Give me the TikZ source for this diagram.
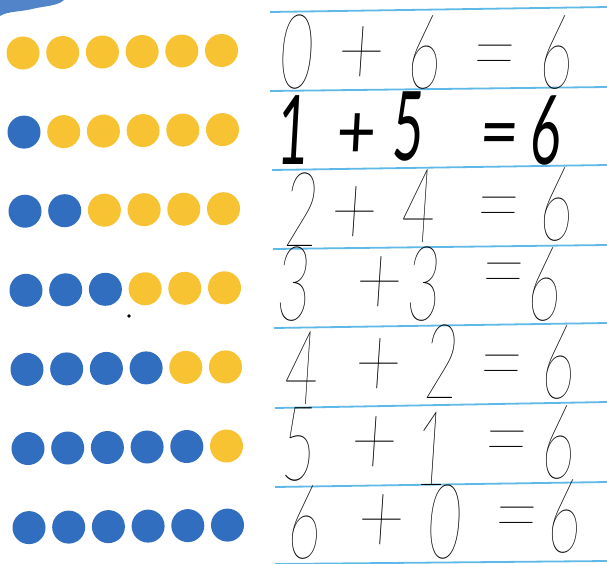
\documentclass[tikz,border=0pt]{standalone}
\usepackage{fontspec}
\IfFontExistsTF{Lato Thin}{\newfontfamily\handthin{Lato Thin}}{\newfontfamily\handthin{Lato Light}}
\newfontfamily\handreg{Lato}
\definecolor{dotyellow}{RGB}{247,195,50}
\definecolor{dotblue}{RGB}{50,110,192}
\definecolor{ruleblue}{RGB}{95,185,232}
\begin{document}
\begin{tikzpicture}[x=1pt,y=-1pt,
  dot/.style={circle,inner sep=0pt,minimum size=33pt},
  ruled/.style={draw=ruleblue,line width=1.8pt},
  hand/.style={font=\handthin\fontsize{104}{104}\selectfont,inner sep=0pt,anchor=base,xscale=0.55,xslant=0.12},
  handb/.style={font=\handreg\fontsize{96}{96}\selectfont,inner sep=0pt,anchor=base,xscale=0.55,xslant=0.1},
  sign/.style={hand,xscale=1.45},
  signb/.style={handb,xscale=1.3,yscale=0.8}]
\useasboundingbox (0,0) rectangle (607,563);
\fill[white] (0,0) rectangle (607,563);
% blue blob top-left
\fill[dotblue!85] (0,0) -- (64,0) .. controls (58,6) and (44,6) .. (32,9) .. controls (20,12) and (8,11) .. (0,16) -- cycle;
% dots
\foreach \r in {1,...,7} {
  \foreach \i in {1,...,6} {
    \pgfmathsetmacro\xx{23+(\r-1)*1+39.7*(\i-1)}
    \pgfmathsetmacro\yy{53+79.1*(\r-1)-0.5*(\i-1)}
    \ifnum\i<\r \def\col{dotblue}\else\def\col{dotyellow}\fi
    \node[dot,fill=\col] (d-\r-\i) at (\xx,\yy) {};
  }
}
\fill[black] (129,316) circle (1.8);
% ruled lines
\draw[ruled] (270,12) -- (607,7);
\draw[ruled] (270,91) -- (607,87);
\draw[ruled] (272,170) -- (607,165);
\draw[ruled] (273,249) -- (607,245);
\draw[ruled] (274,328) -- (607,323);
\draw[ruled] (275,408) -- (607,402);
\draw[ruled] (275,487) -- (607,482);
\draw[ruled] (275,564) -- (607,561);
% row 1
\node[hand] (a1) at (295,88) {0};
\node[sign] (a2) at (360,86) {+};
\node[hand] (a3) at (423,88) {6};
\node[sign] (a4) at (493,88) {=};
\node[hand] (a5) at (555,88) {6};
% row 2
\node[handb] (b1) at (292,164) {1};
\node[signb] (b2) at (355,158) {+};
\node[handb] (b3) at (407,160) {5};
\node[signb] (b4) at (498,158) {=};
\node[handb] (b5) at (545,164) {6};
% row 3
\node[hand] (c1) at (300,246) {2};
\node[sign] (c2) at (353,246) {+};
\node[hand] (c3) at (417,242) {4};
\node[sign] (c4) at (497,240) {=};
\node[hand] (c5) at (555,240) {6};
% row 4
\node[hand] (e1) at (292,320) {3};
\node[sign] (e2) at (378,316) {+};
\node[hand] (e3) at (422,320) {3};
\node[sign] (e4) at (502,306) {=};
\node[hand] (e5) at (543,320) {6};
% row 5
\node[hand] (f1) at (300,404) {4};
\node[sign] (f2) at (377,398) {+};
\node[hand] (f3) at (440,398) {2};
\node[sign] (f4) at (500,398) {=};
\node[hand] (f5) at (557,398) {6};
% row 6
\node[hand] (g1) at (297,480) {5};
\node[sign] (g2) at (373,476) {+};
\node[hand] (g3) at (430,485) {1};
\node[sign] (g4) at (505,474) {=};
\node[hand] (g5) at (557,478) {6};
% row 7
\node[hand] (h1) at (303,558) {6};
\node[sign] (h2) at (380,554) {+};
\node[hand] (h3) at (443,558) {0};
\node[sign] (h4) at (515,550) {=};
\node[hand] (h5) at (563,552) {6};
\end{tikzpicture}
\end{document}
